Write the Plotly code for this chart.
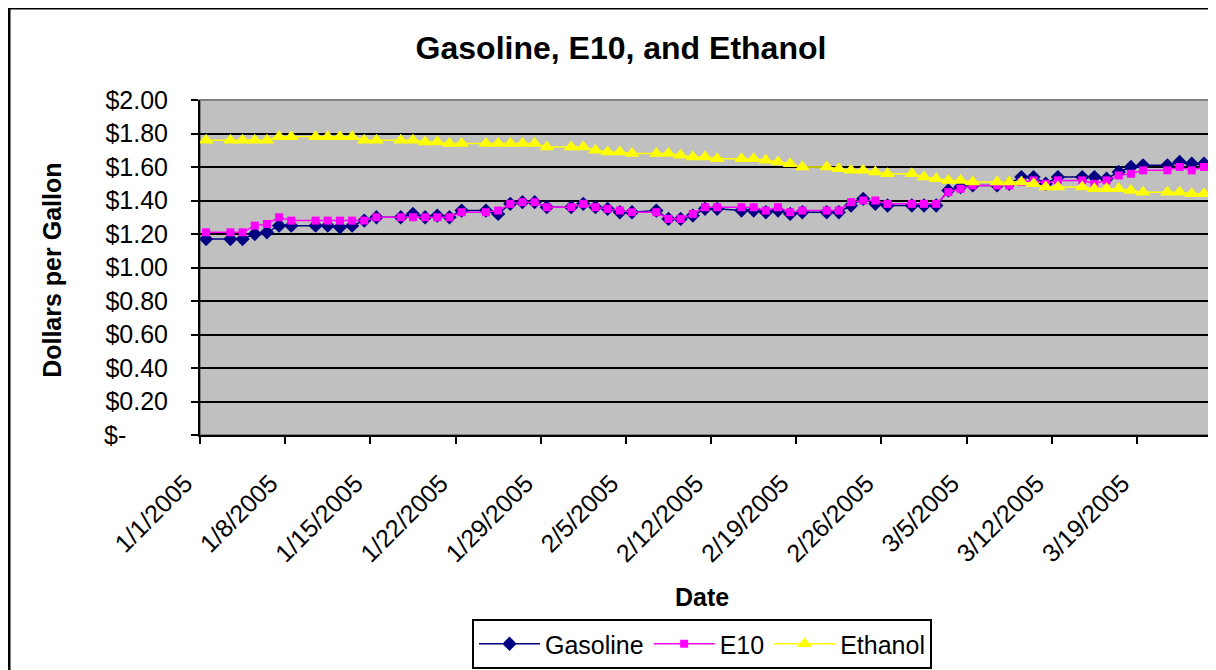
import plotly.graph_objects as go
import pandas as pd

dates = [
    "2005-01-01",
    "2005-01-03", "2005-01-04", "2005-01-05", "2005-01-06", "2005-01-07", "2005-01-08",
    "2005-01-10", "2005-01-11", "2005-01-12", "2005-01-13", "2005-01-14", "2005-01-15",
    "2005-01-17", "2005-01-18", "2005-01-19", "2005-01-20", "2005-01-21", "2005-01-22",
    "2005-01-24", "2005-01-25", "2005-01-26", "2005-01-27", "2005-01-28", "2005-01-29",
    "2005-01-31", "2005-02-01", "2005-02-02", "2005-02-03", "2005-02-04", "2005-02-05",
    "2005-02-07", "2005-02-08", "2005-02-09", "2005-02-10", "2005-02-11", "2005-02-12",
    "2005-02-14", "2005-02-15", "2005-02-16", "2005-02-17", "2005-02-18", "2005-02-19",
    "2005-02-21", "2005-02-22", "2005-02-23", "2005-02-24", "2005-02-25", "2005-02-26",
    "2005-02-28", "2005-03-01", "2005-03-02", "2005-03-03", "2005-03-04", "2005-03-05",
    "2005-03-07", "2005-03-08", "2005-03-09", "2005-03-10", "2005-03-11", "2005-03-12",
    "2005-03-14", "2005-03-15", "2005-03-16", "2005-03-17", "2005-03-18", "2005-03-19",
    "2005-03-21", "2005-03-22", "2005-03-23", "2005-03-24",
]

gasoline = [
    1.17,
    1.17, 1.17, 1.20, 1.21, 1.25, 1.25,
    1.25, 1.25, 1.24, 1.25, 1.28, 1.30,
    1.30, 1.32, 1.30, 1.31, 1.30, 1.34,
    1.34, 1.32, 1.38, 1.39, 1.39, 1.36,
    1.36, 1.38, 1.36, 1.35, 1.33, 1.33,
    1.34, 1.29, 1.29, 1.31, 1.35, 1.35,
    1.34, 1.34, 1.33, 1.34, 1.32, 1.33,
    1.33, 1.33, 1.37, 1.41, 1.38, 1.37,
    1.37, 1.37, 1.37, 1.46, 1.48, 1.49,
    1.49, 1.50, 1.54, 1.54, 1.50, 1.54,
    1.54, 1.54, 1.53, 1.57, 1.60, 1.61,
    1.61, 1.63, 1.62, 1.62,
]

e10 = [
    1.21,
    1.21, 1.21, 1.25, 1.26, 1.30, 1.28,
    1.28, 1.28, 1.28, 1.28, 1.28, 1.30,
    1.30, 1.30, 1.30, 1.30, 1.30, 1.33,
    1.33, 1.34, 1.38, 1.39, 1.39, 1.36,
    1.36, 1.38, 1.36, 1.35, 1.34, 1.33,
    1.33, 1.29, 1.29, 1.32, 1.36, 1.36,
    1.36, 1.36, 1.34, 1.36, 1.33, 1.34,
    1.34, 1.34, 1.39, 1.40, 1.40, 1.38,
    1.38, 1.38, 1.38, 1.45, 1.47, 1.49,
    1.49, 1.49, 1.51, 1.52, 1.50, 1.52,
    1.52, 1.50, 1.52, 1.55, 1.56, 1.58,
    1.58, 1.60, 1.58, 1.60,
]

ethanol = [
    1.76,
    1.76, 1.76, 1.76, 1.76, 1.78, 1.78,
    1.78, 1.78, 1.78, 1.78, 1.76, 1.76,
    1.76, 1.76, 1.75, 1.75, 1.74, 1.74,
    1.74, 1.74, 1.74, 1.74, 1.74, 1.72,
    1.72, 1.72, 1.70, 1.69, 1.69, 1.68,
    1.68, 1.68, 1.67, 1.66, 1.66, 1.65,
    1.65, 1.65, 1.64, 1.63, 1.62, 1.60,
    1.60, 1.59, 1.58, 1.58, 1.57, 1.56,
    1.56, 1.54, 1.53, 1.52, 1.52, 1.51,
    1.51, 1.51, 1.51, 1.50, 1.48, 1.48,
    1.48, 1.47, 1.47, 1.47, 1.46, 1.45,
    1.45, 1.45, 1.44, 1.44,
]

x_tick_dates = ["2005-01-01", "2005-01-08", "2005-01-15", "2005-01-22", "2005-01-29",
                "2005-02-05", "2005-02-12", "2005-02-19", "2005-02-26", "2005-03-05",
                "2005-03-12", "2005-03-19"]
x_tick_labels = ["1/1/2005", "1/8/2005", "1/15/2005", "1/22/2005", "1/29/2005",
                 "2/5/2005", "2/12/2005", "2/19/2005", "2/26/2005", "3/5/2005",
                 "3/12/2005", "3/19/2005"]
y_tick_vals = [0, 0.2, 0.4, 0.6, 0.8, 1.0, 1.2, 1.4, 1.6, 1.8, 2.0]
y_tick_labels = ["$-" + "\u00a0" * 6, "$0.20", "$0.40", "$0.60", "$0.80", "$1.00",
                 "$1.20", "$1.40", "$1.60", "$1.80", "$2.00"]

# Excel date axis places each point in the middle of its day
x_pts = pd.to_datetime(dates) + pd.Timedelta(hours=12)
# pad rotated labels so that they end a little left of their tick, as in Excel
x_tick_text = [t + "\u00a0\u00a0\u00a0" for t in x_tick_labels]

FONT = "Liberation Sans, Arial, sans-serif"
# the page puts the figure at an (8, 8) offset; the chart runs past the window
W, H = 1216, 720
L, T, PW, PH = 192, 92, 1010, 335
R, B = W - L - PW, H - T - PH
BOT = T + PH  # plot bottom, in figure pixels

fig = go.Figure()
fig.add_trace(go.Scatter(x=x_pts, y=gasoline, name="Gasoline", mode="lines+markers",
                         line=dict(color="#000080", width=1.5),
                         marker=dict(symbol="diamond", size=11, color="#000080")))
fig.add_trace(go.Scatter(x=x_pts, y=e10, name="E10", mode="lines+markers",
                         line=dict(color="#FF00FF", width=1.5),
                         marker=dict(symbol="square", size=8, color="#FF00FF")))
fig.add_trace(go.Scatter(x=x_pts, y=ethanol, name="Ethanol", mode="lines+markers",
                         line=dict(color="#FFFF00", width=1.5),
                         marker=dict(symbol="triangle-up", size=13, color="#FFFF00")))

fig.update_layout(
    width=W, height=H,
    margin=dict(l=L, r=R, t=T, b=B, autoexpand=False),
    paper_bgcolor="white", plot_bgcolor="#C0C0C0",
    font=dict(family=FONT, size=25, color="black"),
    title=dict(text="<b>Gasoline, E10, and Ethanol</b>", x=613 / W, xref="container",
               xanchor="center", y=1 - 40 / H, yref="container", yanchor="middle",
               font=dict(size=32, family=FONT, color="black")),
    showlegend=True,
    legend=dict(orientation="h", x=(694 - L) / PW, xanchor="center",
                y=(BOT - 611) / PH, yanchor="top",
                bordercolor="black", borderwidth=2, bgcolor="white",
                font=dict(size=25, family=FONT), itemwidth=61,
                tracegroupgap=0),
    xaxis=dict(type="date", range=["2005-01-01", "2005-03-25"],
               tickmode="array", tickvals=x_tick_dates, ticktext=x_tick_text,
               tickangle=-45, ticks="outside", ticklen=7, tickwidth=1.5, tickcolor="black",
               showline=True, linecolor="black", linewidth=2, showgrid=False,
               zeroline=False, ticklabelstandoff=0, tickfont=dict(size=25, family=FONT)),
    yaxis=dict(range=[0, 2], tickmode="array", tickvals=y_tick_vals, ticktext=y_tick_labels,
               ticks="outside", ticklen=7, tickwidth=1.5, tickcolor="black",
               showline=True, linecolor="black", linewidth=2,
               showgrid=True, gridcolor="black", gridwidth=1.5, zeroline=False,
               ticklabelstandoff=18, tickfont=dict(size=25, family=FONT)),
    annotations=[
        dict(text="<b>Dollars per Gallon</b>", xref="paper", yref="paper",
             x=(44 - L) / PW, y=0.49, textangle=-90, showarrow=False,
             xanchor="center", yanchor="middle", font=dict(size=25, family=FONT)),
        dict(text="<b>Date</b>", xref="paper", yref="paper",
             x=(694 - L) / PW, y=(BOT - 589) / PH, showarrow=False,
             xanchor="center", yanchor="middle", font=dict(size=25, family=FONT)),
    ],
    shapes=[
        dict(type="rect", xref="paper", yref="paper", x0=0, x1=1, y0=0, y1=1,
             line=dict(color="#808080", width=2), layer="below"),
        dict(type="rect", xref="paper", yref="paper",
             x0=(1 - L) / PW, x1=(W + 20 - L) / PW,
             y0=(BOT - H - 20) / PH, y1=(BOT - 0) / PH,
             line=dict(color="black", width=3), layer="above"),
    ],
)

fig.write_html("out.html")
